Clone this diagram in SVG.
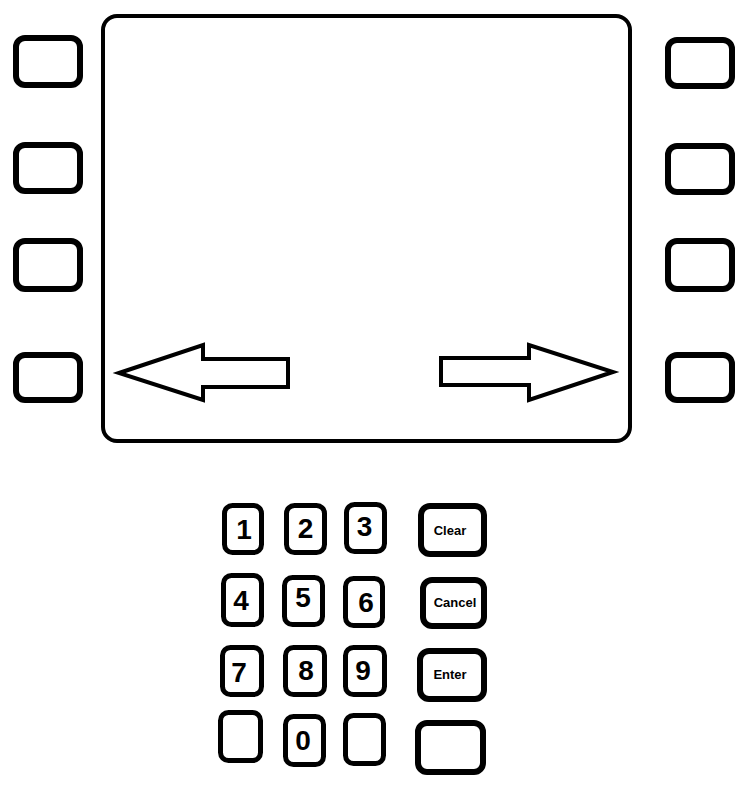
<svg xmlns="http://www.w3.org/2000/svg" width="750" height="792" viewBox="0 0 750 792">
<style>
.b{fill:#fff;stroke:#000;stroke-width:6}
.k{fill:#fff;stroke:#000;stroke-width:5}
.f{fill:#fff;stroke:#000;stroke-width:6}
.s{fill:#fff;stroke:#000;stroke-width:4}
.a{fill:#fff;stroke:#000;stroke-width:4;stroke-linejoin:miter}
.d{font-family:"Liberation Sans",Arial,sans-serif;font-weight:bold;font-size:28px;fill:#000;text-anchor:middle}
.t{font-family:"Liberation Sans",Arial,sans-serif;font-weight:bold;font-size:13px;fill:#000;text-anchor:middle}
</style>
<rect width="750" height="792" fill="#fff"/>
<g id="screen"><rect class="s" x="103" y="16" width="527" height="425" rx="14"/></g>
<g id="left-buttons">
<g id="L1"><rect class="b" x="16" y="38" width="64" height="47" rx="9"/></g>
<g id="L2"><rect class="b" x="16" y="145" width="64" height="46" rx="9"/></g>
<g id="L3"><rect class="b" x="16" y="241" width="64" height="48" rx="9"/></g>
<g id="L4"><rect class="b" x="16" y="355" width="64" height="45" rx="9"/></g>
</g>
<g id="right-buttons">
<g id="R1"><rect class="b" x="668" y="40" width="64" height="46" rx="9"/></g>
<g id="R2"><rect class="b" x="668" y="146" width="64" height="46" rx="9"/></g>
<g id="R3"><rect class="b" x="668" y="241" width="64" height="48" rx="9"/></g>
<g id="R4"><rect class="b" x="668" y="355" width="64" height="45" rx="9"/></g>
</g>
<g id="connectors">
<polygon id="arrow-left" class="a" points="119,373 203,345 203,359 288,359 288,387 203,387 203,400"/>
<polygon id="arrow-right" class="a" points="441,358 529,358 529,345 613,372 529,400 529,385 441,385"/>
</g>
<g id="keypad">
<g id="k1"><rect class="k" x="224.5" y="505.5" width="37" height="47" rx="8"/><text class="d" x="244" y="539">1</text></g>
<g id="k2"><rect class="k" x="286.5" y="505.5" width="38" height="47" rx="8"/><text class="d" x="305.5" y="538">2</text></g>
<g id="k3"><rect class="k" x="346.5" y="504.5" width="38" height="47" rx="8"/><text class="d" x="364.5" y="536">3</text></g>
<g id="kclear"><rect class="f" x="421" y="506" width="63" height="48" rx="9"/><text class="t" x="450" y="535">Clear</text></g>
<g id="k4"><rect class="k" x="223.5" y="575.5" width="38" height="49" rx="8"/><text class="d" x="241" y="610">4</text></g>
<g id="k5"><rect class="k" x="284.5" y="577.5" width="38" height="47" rx="8"/><text class="d" x="303" y="607">5</text></g>
<g id="k6"><rect class="k" x="345.5" y="578.5" width="37" height="47" rx="8"/><text class="d" x="366" y="612">6</text></g>
<g id="kcancel"><rect class="f" x="423" y="580" width="61" height="46" rx="9"/><text class="t" x="455" y="607">Cancel</text></g>
<g id="k7"><rect class="k" x="222.5" y="647.5" width="39" height="47" rx="8"/><text class="d" x="239" y="682">7</text></g>
<g id="k8"><rect class="k" x="285.5" y="647.5" width="39" height="47" rx="8"/><text class="d" x="306" y="680">8</text></g>
<g id="k9"><rect class="k" x="345.5" y="647.5" width="39" height="47" rx="8"/><text class="d" x="363" y="680">9</text></g>
<g id="kenter"><rect class="f" x="420" y="651" width="64" height="48" rx="9"/><text class="t" x="450" y="679">Enter</text></g>
<g id="kblank1"><rect class="k" x="220.5" y="712.5" width="40" height="48" rx="8"/></g>
<g id="k0"><rect class="k" x="285.5" y="716.5" width="38" height="48" rx="8"/><text class="d" x="303" y="750">0</text></g>
<g id="kblank2"><rect class="k" x="345.5" y="715.5" width="38" height="48" rx="8"/></g>
<g id="kblank3"><rect class="f" x="418" y="723" width="65" height="49" rx="9"/></g>
</g>
</svg>
